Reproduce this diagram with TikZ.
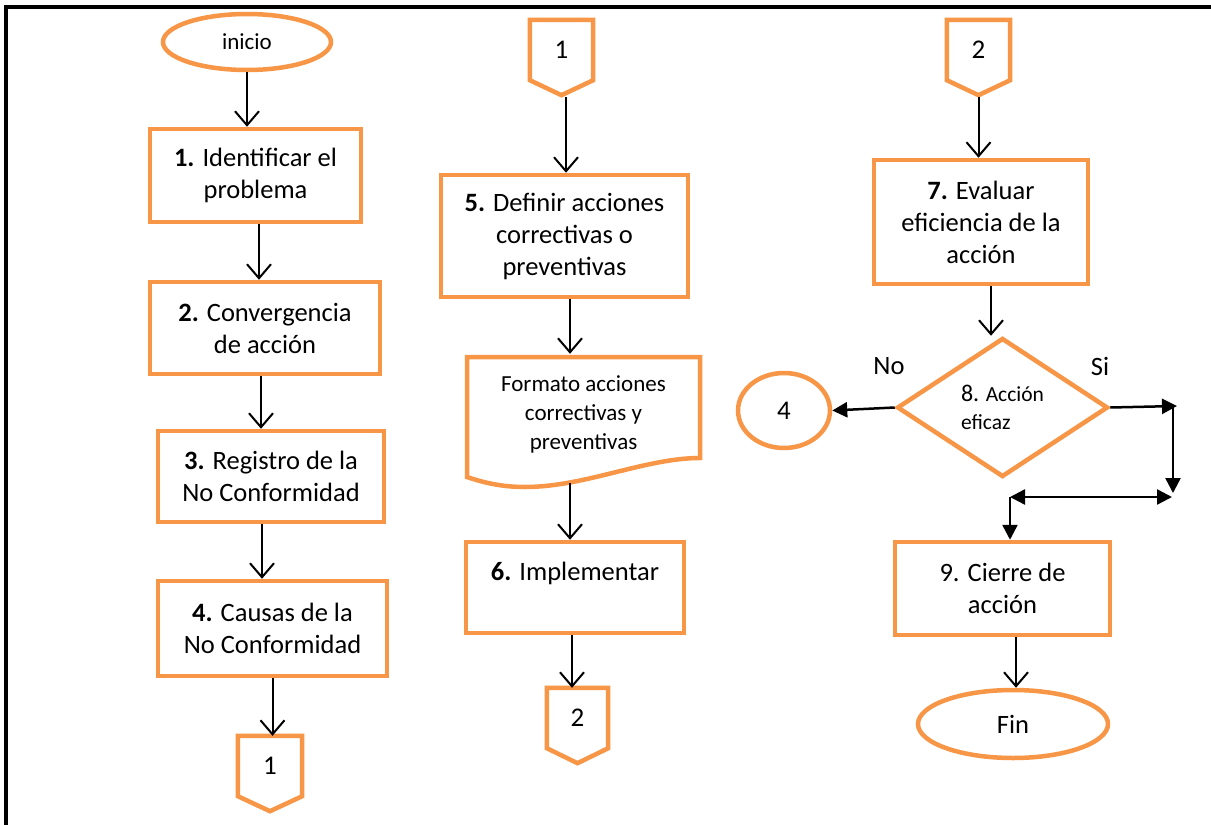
\documentclass[tikz,border=0pt]{standalone}
\usepackage{fontspec}
\setmainfont{Carlito}
\usetikzlibrary{shapes.geometric,arrows.meta,calc}
\definecolor{flowor}{RGB}{247,150,70}

\begin{document}
\begin{tikzpicture}[x=1pt,y=-1pt,
  procbox/.style={draw=flowor, line width=4.5pt, fill=white, inner sep=0pt, align=center,
    font=\fontsize{26.5}{32}\selectfont},
  termnode/.style={ellipse, draw=flowor, line width=4.5pt, fill=white, inner sep=0pt, align=center},
  decision/.style={diamond, draw=flowor, line width=4.5pt, fill=white, inner sep=0pt, align=left,
    font=\fontsize{21.5}{28}\selectfont},
  opnode/.style={inner sep=0pt, minimum height=60pt, font=\fontsize{27}{30}\selectfont},
  opline/.style={draw=flowor, line width=4.5pt, line join=miter},
  flow/.style={line width=2pt, -{Straight Barb[length=14pt,width=24pt]}},
  hardflow/.style={line width=2.5pt, -{Triangle[length=15pt,width=15pt]}},
  lbl/.style={font=\fontsize{26.5}{30}\selectfont}
]
\useasboundingbox (0,0) rectangle (1211,825);

% frame
\draw[line width=3.5pt] (1211,7) -- (6,7) -- (6,825);

% ---------- first column ----------
\node[termnode, minimum width=168pt, minimum height=56pt, font=\fontsize{23}{25}\selectfont]
  (start) at (247,42) {inicio};
\node[procbox, minimum width=211pt, minimum height=93pt] (b1) at (255.5,175.5)
  {\textbf{1.} Identificar el\\problema};
\node[procbox, minimum width=230pt, minimum height=92pt] (b2) at (265,328)
  {\textbf{2.} Convergencia\\de acción};
\node[procbox, minimum width=226pt, minimum height=91pt] (b3) at (271,476.5)
  {\textbf{3.} Registro de la\\No Conformidad};
\node[procbox, minimum width=229pt, minimum height=95pt] (b4) at (272.5,628.5)
  {\textbf{4.} Causas de la\\No Conformidad};
\node[opnode, minimum width=64pt] (o1a) at (270,766) {1};
\draw[opline] (o1a.north west) -- (o1a.north east) -- (o1a.south east)
  -- ($(o1a.south)+(0,15)$) -- (o1a.south west) -- cycle;

\draw[flow] (start.south) -- (start.south |- b1.north);
\coordinate (t1) at ($(b1.south)+(3.5,0)$);
\draw[flow] (t1) -- (t1 |- b2.north);
\coordinate (t2) at ($(b2.south)+(-4,0)$);
\draw[flow] (t2) -- (t2 |- b3.north);
\coordinate (t3) at ($(b3.south)+(-9,0)$);
\draw[flow] (t3) -- (t3 |- b4.north);
\draw[flow] (b4.south) -- (b4.south |- o1a.north);

% ---------- second column ----------
\node[opnode, minimum width=63pt] (o1b) at (561.5,50) {1};
\draw[opline] (o1b.north west) -- (o1b.north east) -- (o1b.south east)
  -- ($(o1b.south)+(0,15)$) -- (o1b.south west) -- cycle;
\node[procbox, minimum width=247pt, minimum height=122pt] (b5) at (564.5,236)
  {\textbf{5.} Definir acciones\\correctivas o\\preventivas};
\node[inner sep=0pt, minimum width=233pt, minimum height=120pt, align=center,
  font=\fontsize{23}{29}\selectfont] (doc) at (583.5,414)
  {Formato acciones\\correctivas y\\preventivas};
\draw[opline] (467,357) -- (700,357) -- (700,458)
  .. controls (645,458) and (585,487) .. (525,487)
  .. controls (500,487) and (482,482) .. (467,477) -- cycle;
\coordinate (docbot) at (570,483);
\node[procbox, minimum width=218pt, minimum height=91pt] (b6) at (575,587.5)
  {\textbf{6.} Implementar\\~};
\node[opnode, minimum width=61pt] (o2a) at (577.5,718) {2};
\draw[opline] (o2a.north west) -- (o2a.north east) -- (o2a.south east)
  -- ($(o2a.south)+(0,15)$) -- (o2a.south west) -- cycle;

\coordinate (t5) at ($(o1b.south)+(4.5,17)$);
\draw[flow] (t5) -- (t5 |- b5.north);
\coordinate (t6) at ($(b5.south)+(5.5,0)$);
\draw[flow] (t6) -- (t6 |- doc.north);
\draw[flow] (docbot) -- (docbot |- b6.north);
\coordinate (t7) at ($(b6.south)+(-3,0)$);
\draw[flow] (t7) -- (t7 |- o2a.north);

% ---------- third column ----------
\node[opnode, minimum width=63pt] (o2b) at (978.5,50) {2};
\draw[opline] (o2b.north west) -- (o2b.north east) -- (o2b.south east)
  -- ($(o2b.south)+(0,15)$) -- (o2b.south west) -- cycle;
\node[procbox, minimum width=214pt, minimum height=124pt] (b7) at (981,222)
  {\textbf{7.} Evaluar\\eficiencia de la\\acción};
\node[decision, minimum width=211pt, minimum height=139pt] (d8) at (1002.5,407.5)
  {{\fontsize{24}{28}\selectfont 8.} Acción\\eficaz};
\node[termnode, minimum width=92pt, minimum height=75pt, font=\fontsize{27}{30}\selectfont]
  (c4) at (784,410.5) {4};
\node[lbl] (nolbl) at (889,366) {No};
\node[lbl] (silbl) at (1100,366) {Si};
\node[procbox, minimum width=215pt, minimum height=93pt] (b9) at (1002.5,588.5)
  {9. Cierre de\\acción};
\node[termnode, minimum width=190pt, minimum height=68pt, font=\fontsize{26.5}{30}\selectfont]
  (fin) at (1013,724) {Fin};

\coordinate (t8) at ($(o2b.south)+(0,17)$);
\draw[flow] (t8) -- (t8 |- b7.north);
\coordinate (t9) at ($(b7.south)+(10,0)$);
\draw[flow] (t9) -- (t9 |- d8.north);
\draw[hardflow] (d8.west) -- (c4.east);
\coordinate (siA) at (1177,406);
\coordinate (siB) at (1173,406);
\coordinate (siC) at (1173,493);
\coordinate (siD) at (1172,497);
\coordinate (siE) at (1010,497);
\draw[hardflow] (d8.east) -- (siA);
\draw[hardflow] (siB) -- (siC);
\draw[hardflow, {Triangle[length=15pt,width=15pt]}-{Triangle[length=15pt,width=15pt]}] (siE) -- (siD);
\draw[hardflow] (siE) -- (siE |- b9.north);
\coordinate (t10) at ($(b9.south)+(13.5,0)$);
\draw[flow] (t10) -- (t10 |- fin.north);
\end{tikzpicture}
\end{document}
